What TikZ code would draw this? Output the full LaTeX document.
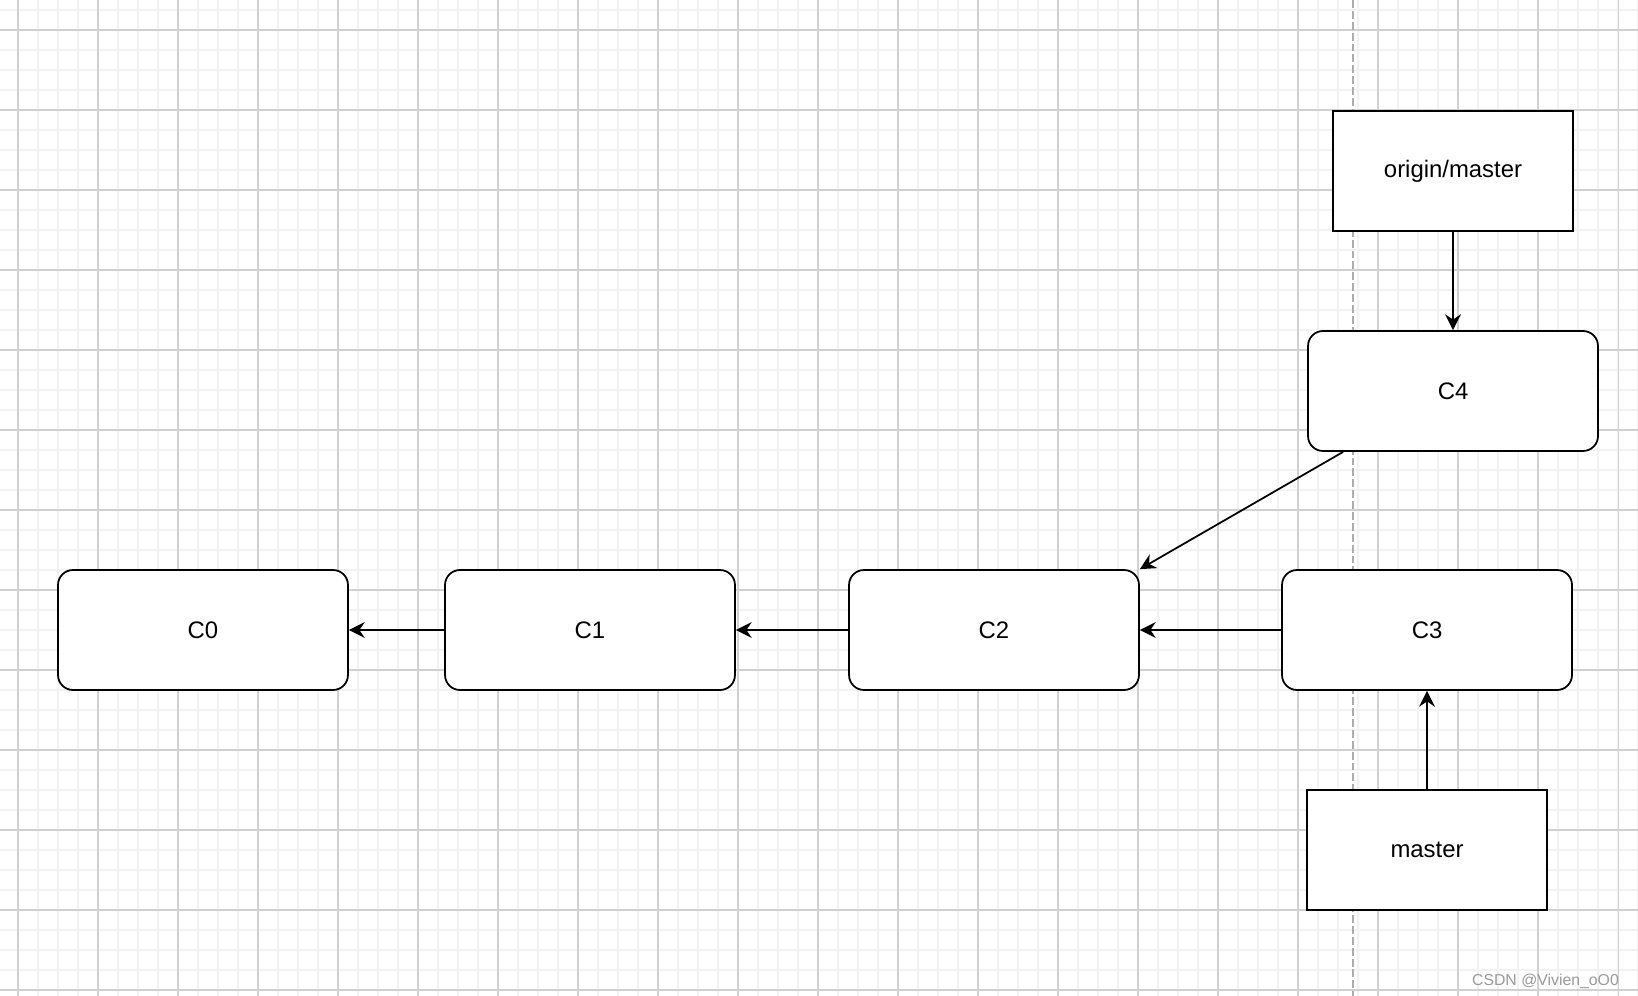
\documentclass[tikz,border=0pt]{standalone}
\usepackage{fontspec}
\setmainfont{Liberation Sans}
\usetikzlibrary{arrows.meta}

\tikzset{
  commit/.style={draw, fill=white, line width=1pt, rounded corners=8.5pt,
    minimum width=5.8cm, minimum height=2.4cm, inner sep=0pt,
    font=\fontsize{13.6}{16}\selectfont},
  branch/.style={draw, fill=white, line width=1pt,
    minimum width=4.8cm, minimum height=2.4cm, inner sep=0pt,
    font=\fontsize{13.6}{16}\selectfont},
  link/.style={-{Stealth[length=9pt,width=9pt,inset=3pt]}, line width=1pt},
  minor line/.style={line width=1.1pt, color=black!5},
  major line/.style={line width=0.6pt, color=black!18},
  split line/.style={line width=0.6pt, color=black!32, dash pattern=on 4.5pt off 1.7pt},
}

\begin{document}
\begin{tikzpicture}[x=0.02cm, y=-0.02cm]
\fill[white] (0,0) rectangle (1638,996);
\useasboundingbox (0,0) rectangle (1638,996);

% Grid.
\foreach \x in {18,38,...,1638} \draw[minor line] (\x,0) -- (\x,996);
\foreach \y in {10,30,...,990} \draw[minor line] (0,\y) -- (1638,\y);
\foreach \x in {18,98,...,1618} \draw[major line] (\x,0) -- (\x,996);
\foreach \y in {30,110,...,990} \draw[major line] (0,\y) -- (1638,\y);
\draw[split line] (1353,0) -- (1353,996);

% Commits.
\node[commit] (c0) at (203,630) {C0};
\node[commit] (c1) at (590,630) {C1};
\node[commit] (c2) at (994,630) {C2};
\node[commit] (c3) at (1427,630) {C3};
\node[commit] (c4) at (1453,391) {C4};

% Branches.
\node[branch] (origin) at (1453,171) {origin/master};
\node[branch] (master) at (1427,850) {master};

% Links.
\draw[link] (c1.west) -- (c0.east);
\draw[link] (c2.west) -- (c1.east);
\draw[link] (c3.west) -- (c2.east);
\draw[link] (c4.209.7) -- (c2.north east);
\draw[link] (origin.south) -- (c4.north);
\draw[link] (master.north) -- (c3.south);

\node[anchor=base east, text=black!40, font=\fontsize{9}{10}\selectfont] (mark) at (1625,985) {CSDN @Vivien\_oO0};
\end{tikzpicture}
\end{document}
